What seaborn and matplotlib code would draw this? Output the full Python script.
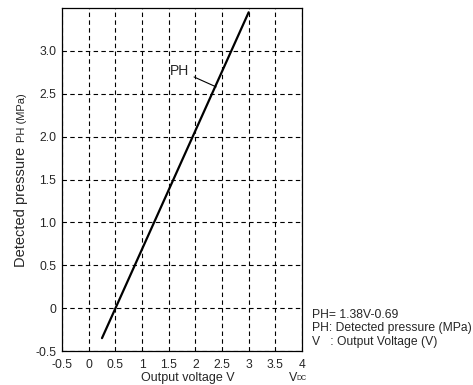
import numpy as np
import pandas as pd
import seaborn as sns
import matplotlib.pyplot as plt

# data
voltage = [0.25, 3.0]
pressure = [-0.35, 3.45]
x_ticks = [-0.5, 0, 0.5, 1, 1.5, 2, 2.5, 3, 3.5, 4]
x_labels = ['-0.5', '0', '0.5', '1', '1.5', '2', '2.5', '3', '3.5', '4']
y_ticks = [-0.5, 0, 0.5, 1.0, 1.5, 2.0, 2.5, 3.0]
y_labels = ['-0.5', '0', '0.5', '1.0', '1.5', '2.0', '2.5', '3.0']
notes = ['PH= 1.38V-0.69', 'PH: Detected pressure (MPa)', 'V   : Output Voltage (V)']

df = pd.DataFrame({'V': voltage, 'PH': pressure})

sns.set_style('white')
plt.rcParams['font.family'] = ['Liberation Sans', 'DejaVu Sans']

fig = plt.figure(figsize=(4.73, 3.85), dpi=100)
ax = fig.add_axes([62/473, 34/385, 240/473, 343/385])

sns.lineplot(data=df, x='V', y='PH', color='black', linewidth=1.6, ax=ax)

ax.set_xlim(-0.5, 4)
ax.set_ylim(-0.5, 3.5)
ax.set_xticks(x_ticks)
ax.set_xticklabels(x_labels, fontsize=8.7)
ax.set_yticks(y_ticks)
ax.set_yticklabels(y_labels, fontsize=8.7)
ax.tick_params(axis='x', length=0, pad=5.5)
ax.tick_params(axis='y', length=0, pad=4)
ax.grid(True, color='black', linestyle=(0, (4, 3)), linewidth=0.8)
for s in ax.spines.values():
    s.set_color('black')
    s.set_linewidth(0.9)
ax.set_xlabel('')
ax.set_ylabel('')

# PH callout
ax.annotate('PH', xy=(2.39, 2.58), xytext=(1.53, 2.77), fontsize=10,
            va='center', ha='left',
            arrowprops=dict(arrowstyle='-', color='black', lw=0.8,
                            shrinkA=1, shrinkB=0))

# axis labels
fig.text(188/473, 1 - 378/385, 'Output voltage V', fontsize=9, ha='center', va='center')
fig.text(293/473, 1 - 378/385, 'V', fontsize=9, ha='center', va='center')
fig.text(301/473, 1 - 379/385, 'DC', fontsize=5, ha='center', va='center')
fig.text(21/473, 1 - 207/385, 'Detected pressure', fontsize=10.5, rotation=90,
         ha='center', va='center')
fig.text(22/473, 1 - 118/385, 'PH (MPa)', fontsize=8, rotation=90,
         ha='center', va='center')

for i, t in enumerate(notes):
    fig.text(312/473, 1 - (315 + i*13.5)/385, t, fontsize=8.7, ha='left', va='center')

fig.savefig('out.png', dpi=100)
